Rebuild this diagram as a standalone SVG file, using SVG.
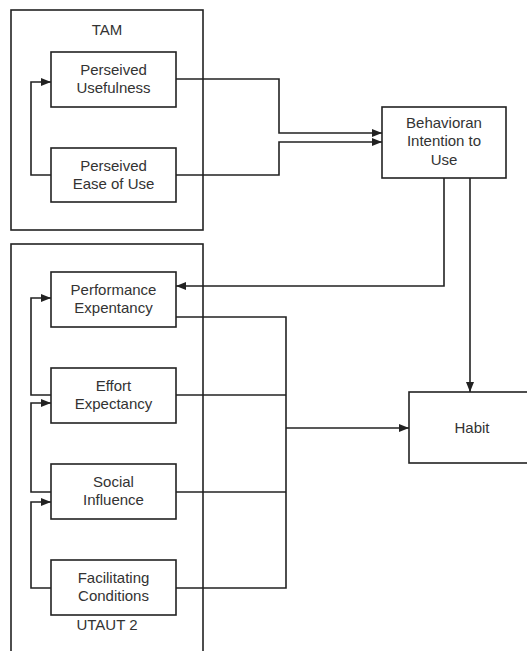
<svg xmlns="http://www.w3.org/2000/svg" width="527" height="651" viewBox="0 0 527 651">
<defs>
<marker id="ah" viewBox="0 0 10 8" refX="10" refY="4" markerWidth="10" markerHeight="8" markerUnits="userSpaceOnUse" orient="auto">
<path d="M0,0 L10,4 L0,8 Z" fill="#222"/>
</marker>
<style>
.box{fill:#fff;stroke:#222;stroke-width:1.6}
.grp{fill:none;stroke:#222;stroke-width:1.6}
.t{font-family:"Liberation Sans",Arial,sans-serif;font-size:15px;fill:#333;text-anchor:middle}
.c{fill:none;stroke:#222;stroke-width:1.6}
.a{marker-end:url(#ah)}
</style>
</defs>
<rect width="527" height="651" fill="#fff"/>
<g id="tam">
<rect class="grp" x="11" y="10" width="192" height="220"/>
<text class="t" x="107" y="35">TAM</text>
</g>
<g id="utaut2">
<rect class="grp" x="11" y="244" width="192" height="420"/>
<text class="t" x="107" y="630">UTAUT 2</text>
</g>
<g id="connectors">
<path class="c a" d="M51,175 H31 V82 H51"/>
<path class="c a" d="M176,79 H279 V133 H382"/>
<path class="c a" d="M176,175 H279 V142 H382"/>
<path class="c a" d="M444,178 V286 H176"/>
<path class="c a" d="M470,178 V392"/>
<path class="c a" d="M51,395 H31 V298 H51"/>
<path class="c a" d="M51,492 H31 V403 H51"/>
<path class="c a" d="M51,588 H31 V502 H51"/>
<path class="c" d="M176,317 H286 V588 H176"/>
<path class="c" d="M176,395 H286"/>
<path class="c" d="M176,492 H286"/>
<path class="c a" d="M286,428 H409"/>
</g>
<g id="pu">
<rect class="box" x="51" y="52" width="125" height="55"/>
<text class="t" x="113.5" y="75">Perseived</text>
<text class="t" x="113.5" y="93">Usefulness</text>
</g>
<g id="peou">
<rect class="box" x="51" y="148" width="125" height="54"/>
<text class="t" x="113.5" y="170.5">Perseived</text>
<text class="t" x="113.5" y="188.5">Ease of Use</text>
</g>
<g id="bi">
<rect class="box" x="382" y="107" width="124" height="71"/>
<text class="t" x="444" y="127.5">Behavioran</text>
<text class="t" x="444" y="146">Intention to</text>
<text class="t" x="444" y="164.5">Use</text>
</g>
<g id="pe">
<rect class="box" x="51" y="272" width="125" height="55"/>
<text class="t" x="113.5" y="295">Performance</text>
<text class="t" x="113.5" y="313">Expentancy</text>
</g>
<g id="ee">
<rect class="box" x="51" y="368" width="125" height="55"/>
<text class="t" x="113.5" y="391">Effort</text>
<text class="t" x="113.5" y="409">Expectancy</text>
</g>
<g id="si">
<rect class="box" x="51" y="464" width="125" height="55"/>
<text class="t" x="113.5" y="487">Social</text>
<text class="t" x="113.5" y="505">Influence</text>
</g>
<g id="fc">
<rect class="box" x="51" y="560" width="125" height="55"/>
<text class="t" x="113.5" y="583">Facilitating</text>
<text class="t" x="113.5" y="601">Conditions</text>
</g>
<g id="habit">
<rect class="box" x="409" y="392" width="130" height="71"/>
<text class="t" x="472" y="432.5">Habit</text>
</g>
</svg>
